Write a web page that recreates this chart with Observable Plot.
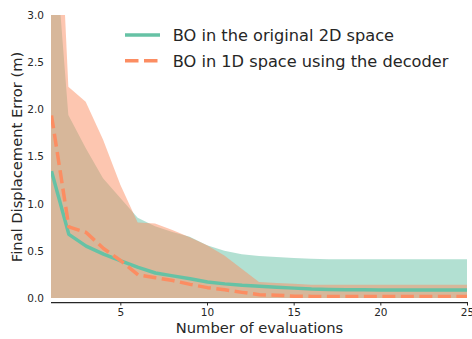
<!DOCTYPE html>
<html>
<head>
<meta charset="utf-8">
<script src="https://cdn.jsdelivr.net/npm/d3@7"></script>
<script src="https://cdn.jsdelivr.net/npm/@observablehq/plot@0.6"></script>
<style>
  html, body { margin: 0; padding: 0; background: white; }
  #wrap { position: relative; width: 472px; height: 339px; overflow: hidden; }
  #legend { position: absolute; left: 0; top: 0; pointer-events: none; }
</style>
</head>
<body>
<div id="wrap"></div>
<script>
// ---- data ----
const evals = [1,2,3,4,5,6,7,8,9,10,11,12,13,14,15,16,17,18,19,20,21,22,23,24,25];

const seriesNames = ["BO in the original 2D space", "BO in 1D space using the decoder"];
const seriesColors = ["#66c2a5", "#fc8d62"];

// BO in the original 2D space
const mean2D = [1.35,0.68,0.555,0.47,0.40,0.33,0.27,0.24,0.21,0.175,0.155,0.14,0.13,0.12,0.11,0.10,0.095,0.093,0.092,0.09,0.09,0.09,0.09,0.09,0.09];
const upper2D = [4.3,1.94,1.59,1.27,1.06,0.85,0.76,0.70,0.65,0.56,0.50,0.465,0.445,0.435,0.425,0.415,0.41,0.41,0.41,0.41,0.41,0.41,0.41,0.41,0.41];
const lower2D = [0,0,0,0,0,0,0,0,0,0,0,0,0,0,0,0,0,0,0,0,0,0,0,0,0];

// BO in 1D space using the decoder
const mean1D = [1.94,0.76,0.70,0.53,0.40,0.25,0.22,0.19,0.15,0.115,0.092,0.065,0.04,0.035,0.025,0.022,0.02,0.02,0.02,0.02,0.02,0.02,0.02,0.02,0.02];
const upper1D = [6.2,2.24,2.08,1.68,1.20,0.80,0.79,0.72,0.645,0.56,0.45,0.31,0.17,0.16,0.15,0.14,0.14,0.14,0.14,0.14,0.14,0.14,0.14,0.14,0.14];
const lower1D = [0,0,0,0,0,0,0,0,0,0,0,0,0,0,0,0,0,0,0,0,0,0,0,0,0];

const xTicks = [5,10,15,20,25];
const yTicks = [0,0.5,1,1.5,2,2.5,3];
const xLabel = "Number of evaluations";
const yLabel = "Final Displacement Error (m)";

// ---- tables ----
const rows2D = evals.map((x, i) => ({x, mean: mean2D[i], lo: lower2D[i], hi: upper2D[i]}));
const rows1D = evals.map((x, i) => ({x, mean: mean1D[i], lo: lower1D[i], hi: upper1D[i]}));

const ink = "#262626";
const font = "DejaVu Sans, sans-serif";

const chart = Plot.plot({
  width: 472,
  height: 339,
  marginLeft: 51,
  marginRight: 5,
  marginTop: 15,
  marginBottom: 41,
  style: {fontFamily: font, background: "white", color: ink, overflow: "visible"},
  x: {domain: [1, 25]},
  y: {domain: [0, 3]},
  marks: [
    Plot.areaY(rows2D, {x: "x", y1: "lo", y2: "hi", fill: seriesColors[0], fillOpacity: 0.5, clip: true}),
    Plot.areaY(rows1D, {x: "x", y1: "lo", y2: "hi", fill: seriesColors[1], fillOpacity: 0.5, clip: true}),
    Plot.lineY(rows2D, {x: "x", y: "mean", stroke: seriesColors[0], strokeWidth: 3.5, strokeLinecap: "butt", clip: true}),
    Plot.lineY(rows1D, {x: "x", y: "mean", stroke: seriesColors[1], strokeWidth: 3.5, strokeDasharray: "13,5.5", strokeLinecap: "butt", clip: true}),
    Plot.axisY({ticks: yTicks, tickSize: 0, tickPadding: 7.5, tickFormat: d3.format(".1f"), fontSize: 10.5, label: null, fill: ink}),
    Plot.axisX({ticks: xTicks, tickSize: 3.5, tickPadding: 3, dy: 4, fontSize: 10.5, label: null, stroke: ink, fill: ink}),
    Plot.ruleY([0], {dy: 4, stroke: ink, strokeWidth: 1.25}),
    Plot.text([xLabel], {frameAnchor: "bottom", dy: 30, text: d => d, fontSize: 14.7, fill: ink, lineAnchor: "middle", textAnchor: "middle"}),
    Plot.text([yLabel], {frameAnchor: "left", dx: -34.5, rotate: -90, text: d => d, fontSize: 14.7, fill: ink, lineAnchor: "middle", textAnchor: "middle"})
  ]
});

const wrap = document.getElementById("wrap");
wrap.appendChild(chart);

// ---- legend (inside plot, upper right) ----
const ns = "http://www.w3.org/2000/svg";
const leg = document.createElementNS(ns, "svg");
leg.setAttribute("id", "legend");
leg.setAttribute("width", 472);
leg.setAttribute("height", 339);
const legX = 125, legY = 35, rowH = 25.7, swW = 35, gap = 12.7;
seriesNames.forEach((name, i) => {
  const cy = legY + i * rowH;
  const ln = document.createElementNS(ns, "line");
  ln.setAttribute("x1", legX); ln.setAttribute("x2", legX + swW);
  ln.setAttribute("y1", cy); ln.setAttribute("y2", cy);
  ln.setAttribute("stroke", seriesColors[i]);
  ln.setAttribute("stroke-width", 3.5);
  if (i === 1) ln.setAttribute("stroke-dasharray", "13.5,5.5");
  leg.appendChild(ln);
  const tx = document.createElementNS(ns, "text");
  tx.setAttribute("x", legX + swW + gap);
  tx.setAttribute("y", cy + 6.3);
  tx.setAttribute("font-family", font);
  tx.setAttribute("font-size", 16.2);
  tx.setAttribute("fill", ink);
  tx.textContent = name;
  leg.appendChild(tx);
});
wrap.appendChild(leg);
</script>
</body>
</html>
